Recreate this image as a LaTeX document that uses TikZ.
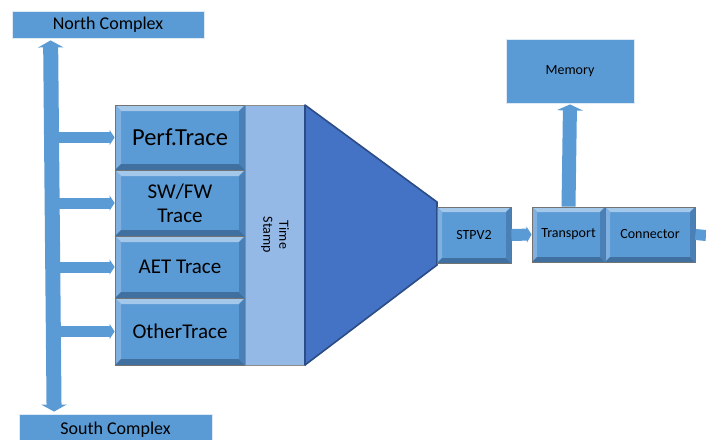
\documentclass[tikz,border=0pt]{standalone}
\usepackage{fontspec}
\setmainfont{Carlito}
\usetikzlibrary{arrows.meta,calc}
\definecolor{boxblue}{HTML}{5B9BD5}
\definecolor{lightedge}{HTML}{A4C8EA}
\definecolor{sideedge}{HTML}{7FB0DF}
\definecolor{darkedge}{HTML}{3F70A0}
\definecolor{rightedge}{HTML}{4A80B5}
\definecolor{stampblue}{HTML}{95B9E7}
\definecolor{muxblue}{HTML}{4472C4}
\definecolor{muxedge}{HTML}{2B4C85}

\tikzset{
  flatbox/.style={rectangle, fill=boxblue, draw=white!80!boxblue, line width=0.8pt,
    inner sep=0pt, align=center},
  bevelbox/.style={rectangle, fill=boxblue, draw=black!55, line width=0.8pt,
    inner sep=0pt, align=center,
    path picture={
      \path (path picture bounding box.north west) coordinate (bA)
            (path picture bounding box.north east) coordinate (bB)
            (path picture bounding box.south east) coordinate (bC)
            (path picture bounding box.south west) coordinate (bD);
      \fill[lightedge] (bA) -- (bB) -- ($(bB)+(-#1,#1)$) -- ($(bA)+(#1,#1)$) -- cycle;
      \fill[sideedge] (bA) -- ($(bA)+(#1,#1)$) -- ($(bD)+(#1,-#1)$) -- (bD) -- cycle;
      \fill[darkedge] (bD) -- (bC) -- ($(bC)+(-#1,-#1)$) -- ($(bD)+(#1,-#1)$) -- cycle;
      \fill[rightedge] (bB) -- (bC) -- ($(bC)+(-#1,-#1)$) -- ($(bB)+(-#1,#1)$) -- cycle;
    }},
  bevelbox/.default=6,
  fatarrow/.style={draw=boxblue, line width=#1},
  big/.style={font=\fontsize{21}{24}\selectfont},
  small/.style={font=\fontsize{14}{16}\selectfont},
  mid/.style={font=\fontsize{18}{20}\selectfont},
}

\begin{document}
\begin{tikzpicture}[x=1pt, y=-1pt]
\useasboundingbox (0,0) rectangle (706,439);

% complexes on the left
\node[flatbox, mid, minimum width=192pt, minimum height=27pt] (north) at (108,24.5) {North Complex};
\node[flatbox, mid, minimum width=193pt, minimum height=32pt] (south) at (115.5,430) {South Complex};

% trace sources
\node[bevelbox, minimum width=130pt, minimum height=65pt, font=\fontsize{24.5}{27}\selectfont] (perf) at (180,137.5) {Perf.Trace};
\node[bevelbox, big, minimum width=130pt, minimum height=66pt] (swfw) at (180,203) {SW/FW\\Trace};
\node[bevelbox, big, minimum width=130pt, minimum height=62pt] (aet) at (180,267) {AET Trace};
\node[bevelbox, big, minimum width=130pt, minimum height=67pt] (other) at (180,331.5) {OtherTrace};

% time stamp column
\node[rectangle, fill=stampblue, draw=black!45, line width=0.8pt, minimum width=60pt,
      minimum height=260pt, inner sep=0pt] (stamp) at (275,235) {};
\node[small, align=center, rotate=-90] (stamptext) at (stamp.center) {Time\\Stamp};

% funnel
\coordinate (fA) at (305,105);
\coordinate (fB) at (437,202);
\coordinate (fC) at (437,265);
\coordinate (fD) at (305,365);
\fill[muxblue] (fA) -- (fB) -- (fC) -- (fD) -- cycle;
\draw[muxedge, line width=1.6pt, line join=round] (fA) -- (fB) -- (fC) -- (fD) -- cycle;

% output chain
\node[bevelbox=5, small, minimum width=74pt, minimum height=56pt] (stp) at (474,235) {STPV2};
\node[bevelbox=5, small, minimum width=73pt, minimum height=55pt] (transport) at (568.5,234.5) {Transport};
\node[bevelbox=5, small, minimum width=90pt, minimum height=55pt] (conn) at (650,234.5) {Connector};
\node[flatbox, small, minimum width=128pt, minimum height=64pt] (memory) at (570,71) {Memory};
\coordinate (out) at (706,235.5);

% bus between the complexes
\draw[fatarrow=15pt, {Triangle[width=25pt,length=7pt]}-{Triangle[width=25pt,length=7pt]},
      shorten <=2pt, shorten >=2pt]
  ([xshift=39pt]north.south west) -- ([xshift=35.5pt]south.north west);
\coordinate (bus) at (51,0);
\foreach \n in {perf,swfw,aet,other}
  \draw[fatarrow=11pt, -{Triangle[width=15pt,length=5pt]}] (bus |- \n.west) -- (\n.west);

% data flow on the right
\draw[fatarrow=12pt, -{Triangle[width=16pt,length=5pt]}] (stp.east) -- (transport.west);
\draw[fatarrow=14pt, -{Triangle[width=26pt,length=6pt]}, shorten >=1pt] (transport.north) -- (memory.south);
\draw[fatarrow=11pt] (conn.east) -- (out);
\end{tikzpicture}
\end{document}
